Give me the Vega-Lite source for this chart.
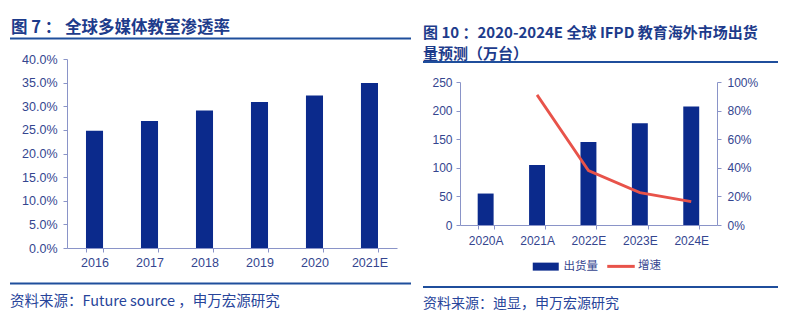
{
  "$schema": "https://vega.github.io/schema/vega-lite/v6.json",
  "padding": {"left": 10, "top": 0, "right": 5, "bottom": 0},
  "background": "white",
  "config": {
    "view": {"stroke": null},
    "font": "Noto Sans CJK SC",
    "axis": {"labelFont": "Liberation Sans", "labelFontSize": 12, "labelColor": "#34458f", "domainColor": "#8a94c8", "tickColor": "#8a94c8", "tickSize": 4, "grid": false, "title": null},
    "title": {"anchor": "start", "font": "Noto Sans CJK SC", "color": "#1d3b8b", "fontWeight": "bold"}
  },
  "align": "none",
  "spacing": 12,
  "resolve": {"scale": {"color": "independent"}, "legend": {"color": "independent"}},
  "hconcat": [
    {
      "spacing": 13.5,
      "vconcat": [
        {
          "width": 1, "height": 6,
          "data": {"values": [{"t": ""}]},
          "mark": {"type": "point", "opacity": 0, "size": 0},
          "encoding": {}
        },
        {
          "width": 401, "height": 2,
          "view": {"fill": "#1f4e9c", "stroke": null},
          "title": {"text": "图 7 ： 全球多媒体教室渗透率", "fontSize": 16.5, "offset": 1.5, "dx": 1},
          "data": {"values": [{"t": ""}]},
          "mark": {"type": "point", "opacity": 0, "size": 0},
          "encoding": {}
        },
        {
          "width": 387, "height": 189,
          "data": {"values": [
            {"year": "2016", "rate": 0.248},
            {"year": "2017", "rate": 0.269},
            {"year": "2018", "rate": 0.291},
            {"year": "2019", "rate": 0.309},
            {"year": "2020", "rate": 0.323},
            {"year": "2021E", "rate": 0.349}
          ]},
          "mark": {"type": "bar", "color": "#0b2a8c"},
          "encoding": {
            "x": {"field": "year", "type": "nominal", "sort": null, "scale": {"paddingInner": 0.69, "paddingOuter": 0.8636, "align": 0.8}, "axis": {"labelAngle": 0, "tickBand": "extent", "labelPadding": 4, "labelFontSize": 12.5, "domainDash": [0, 57, 330, 2000]}},
            "y": {"field": "rate", "type": "quantitative", "scale": {"domain": [0, 0.4], "nice": false}, "axis": {"format": ".1%", "values": [0, 0.05, 0.1, 0.15, 0.2, 0.25, 0.3, 0.35, 0.4], "offset": -57, "labelPadding": 6, "labelFontSize": 12.5}}
          }
        },
        {
          "width": 401, "height": 2,
          "view": {"fill": "#1f4e9c", "stroke": null},
          "title": {"text": "资料来源：Future source ，申万宏源研究", "orient": "bottom", "fontSize": 14.5, "fontWeight": "normal", "color": "#27449a", "offset": 10},
          "data": {"values": [{"t": ""}]},
          "mark": {"type": "point", "opacity": 0, "size": 0},
          "encoding": {}
        }
      ]
    },
    {
      "spacing": 13,
      "resolve": {"scale": {"color": "independent"}, "legend": {"color": "independent"}},
      "vconcat": [
        {
          "width": 1, "height": 12.7,
          "data": {"values": [{"t": ""}]},
          "mark": {"type": "point", "opacity": 0, "size": 0},
          "encoding": {}
        },
        {
          "width": 355, "height": 2,
          "view": {"fill": "#1f4e9c", "stroke": null},
          "title": {"text": "图 10 ：2020-2024E 全球 IFPD  教育海外市场出货", "fontSize": 15, "subtitle": "量预测（万台）", "subtitleFontSize": 15, "subtitleFontWeight": "bold", "subtitleColor": "#1d3b8b", "subtitleFont": "Noto Sans CJK SC", "subtitlePadding": 6, "offset": -1},
          "data": {"values": [{"t": ""}]},
          "mark": {"type": "point", "opacity": 0, "size": 0},
          "encoding": {}
        },
        {
          "width": 294, "height": 143,
          "data": {"values": [
            {"period": "2020A", "ship": 55, "growth": null},
            {"period": "2021A", "ship": 105, "growth": 0.91},
            {"period": "2022E", "ship": 145, "growth": 0.38},
            {"period": "2023E", "ship": 178, "growth": 0.227},
            {"period": "2024E", "ship": 207, "growth": 0.163}
          ]},
          "encoding": {
            "x": {"field": "period", "type": "nominal", "sort": null, "scale": {"paddingInner": 0.69, "paddingOuter": 0.705, "align": 0.7545}, "axis": {"labelAngle": 0, "tickBand": "extent", "labelPadding": 6, "domainDash": [0, 37, 257, 2000]}}
          },
          "layer": [
            {
              "mark": {"type": "bar"},
              "encoding": {
                "y": {"field": "ship", "type": "quantitative", "scale": {"domain": [0, 250], "nice": false}, "axis": {"values": [0, 50, 100, 150, 200, 250], "offset": -37, "labelPadding": 4}},
                "color": {"datum": "出货量", "type": "nominal", "scale": {"domain": ["出货量", "增速"], "range": ["#0b2a8c", "#e8534a"]},
                  "legend": {"orient": "none", "legendX": 117, "legendY": 178.5, "direction": "horizontal", "title": null, "symbolSize": 100, "labelFontSize": 11.5, "labelFont": "Noto Sans CJK SC", "labelColor": "#34458f", "columnPadding": 2.5, "labelOffset": 12, "padding": 0,
                    "encode": {"symbols": {"update": {
                      "shape": {"signal": "datum.value === '出货量' ? 'M-2.6,-0.8H2.6V0.8H-2.6Z' : 'M-2.6,0H2.9'"},
                      "fill": {"signal": "datum.value === '出货量' ? '#0b2a8c' : 'transparent'"},
                      "stroke": {"signal": "datum.value === '出货量' ? 'transparent' : '#e8534a'"},
                      "strokeWidth": {"signal": "datum.value === '出货量' ? 0 : 3"},
                      "opacity": {"value": 1}
                    }}}}
                }
              }
            },
            {
              "transform": [{"filter": "datum.growth != null"}],
              "mark": {"type": "line", "strokeWidth": 2.8},
              "encoding": {
                "y": {"field": "growth", "type": "quantitative", "scale": {"domain": [0, 1], "nice": false}, "axis": {"orient": "right", "format": ".0%", "values": [0, 0.2, 0.4, 0.6, 0.8, 1], "labelPadding": 6}},
                "color": {"datum": "增速", "type": "nominal"}
              }
            }
          ],
          "resolve": {"scale": {"y": "independent"}}
        },
        {
          "width": 355, "height": 2,
          "view": {"fill": "#1f4e9c", "stroke": null},
          "title": {"text": "资料来源：迪显，申万宏源研究", "orient": "bottom", "fontSize": 14, "fontWeight": "normal", "color": "#27449a", "offset": 9},
          "data": {"values": [{"t": ""}]},
          "mark": {"type": "point", "opacity": 0, "size": 0},
          "encoding": {}
        }
      ]
    }
  ]
}
